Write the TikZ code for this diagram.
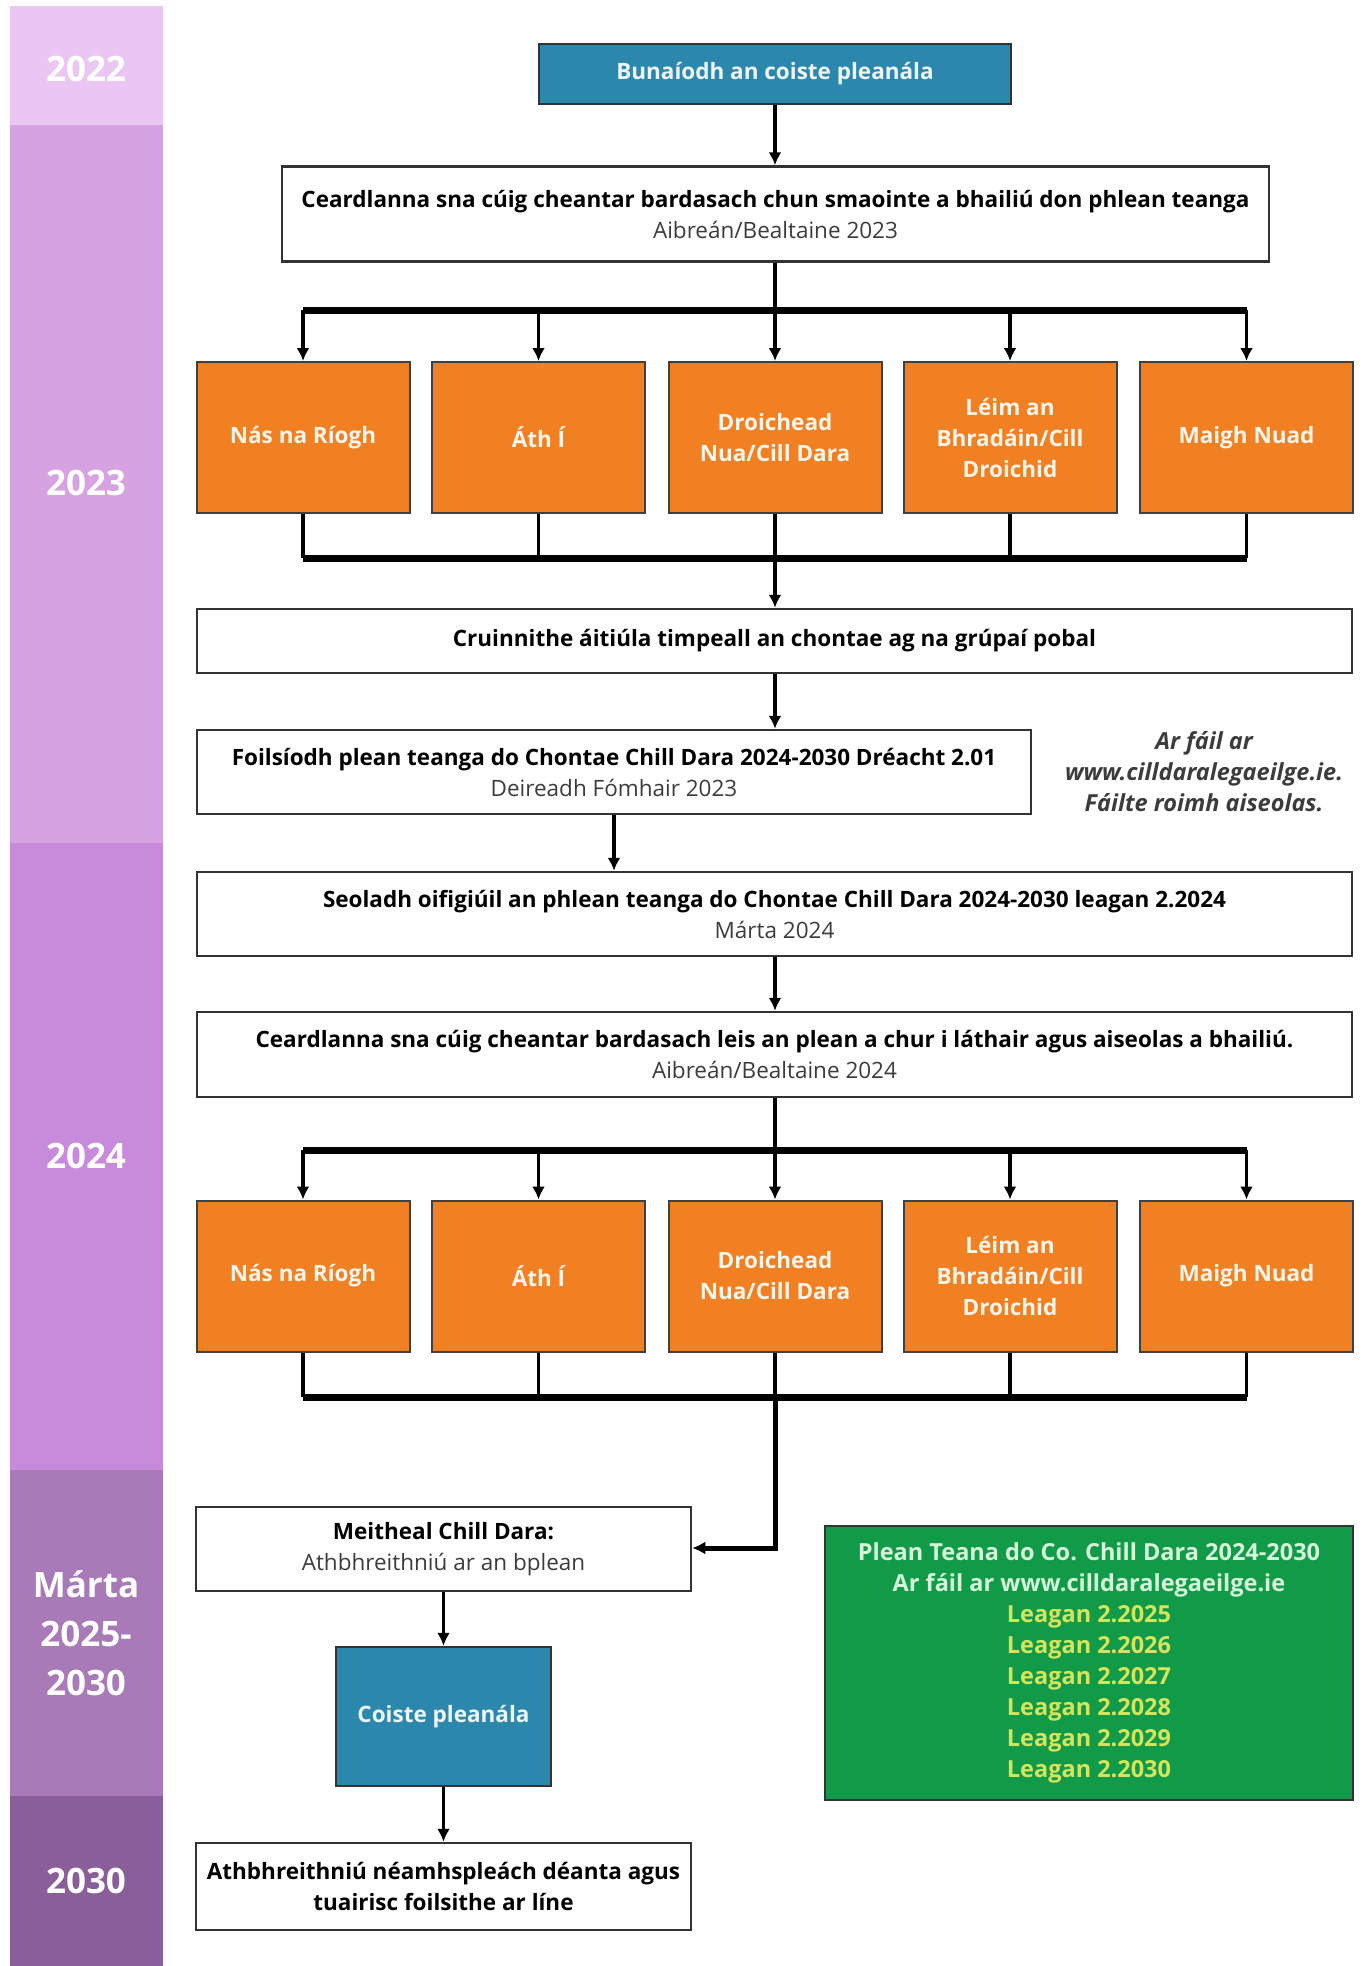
\documentclass[tikz,border=0pt]{standalone}
\usepackage{fontspec}
\setmainfont{Open Sans}
\usetikzlibrary{arrows.meta}
\definecolor{kdteal}{RGB}{44,135,173}
\definecolor{kdorange}{RGB}{240,128,34}
\definecolor{kdgreen}{RGB}{17,154,72}
\definecolor{kdmint}{RGB}{214,246,218}
\definecolor{kdlime}{RGB}{214,228,92}
\definecolor{kdgrey}{RGB}{60,60,60}
\definecolor{pur22}{RGB}{235,198,243}
\definecolor{pur23}{RGB}{214,162,226}
\definecolor{pur24}{RGB}{200,138,219}
\definecolor{pur25}{RGB}{168,122,184}
\definecolor{pur30}{RGB}{138,94,152}
\newcommand{\boxfont}{\fontsize{22.5}{31}\selectfont}
\newcommand{\notefont}{\fontsize{23.5}{31}\selectfont}
\newcommand{\yearfont}{\fontsize{35}{49}\selectfont}

\begin{document}
\begin{tikzpicture}[x=1pt,y=-1pt,
  wbox/.style={draw=black!80,line width=2.5pt,fill=white,align=center,inner sep=0pt,font=\boxfont},
  tbox/.style={draw=black!80,line width=2.5pt,fill=kdteal,text=white!92!kdteal,align=center,inner sep=0pt,font=\boxfont\bfseries},
  obox/.style={draw=black!75,line width=2pt,fill=kdorange,text=white!92!kdorange,align=center,inner sep=0pt,
    minimum width=213pt,minimum height=151pt,font=\boxfont\bfseries},
  yr/.style={text=white,align=center,font=\yearfont\bfseries},
  stem/.style={line width=3.5pt},
  bar/.style={line width=7pt},
  arr/.style={line width=3.5pt,-{Latex[length=13pt,width=13pt]}}]
\useasboundingbox (0,0) rectangle (1367,1966);
\fill[white] (0,0) rectangle (1367,1966);
\fill[pur22] (10,6) rectangle (163,125);
\fill[pur23] (10,125) rectangle (163,843);
\fill[pur24] (10,843) rectangle (163,1470);
\fill[pur25] (10,1470) rectangle (163,1796);
\fill[pur30] (10,1796) rectangle (163,1966);
\node[yr] (y2022) at (86,69) {2022};
\node[yr] (y2023) at (86,483) {2023};
\node[yr] (y2024) at (86,1156) {2024};
\node[yr] (y2025) at (86,1633) {Márta\\2025-\\2030};
\node[yr] (y2030) at (86,1881) {2030};

\node[tbox,minimum width=472pt,minimum height=60pt] (bun) at (775,74) {Bunaíodh an coiste pleanála};
\node[wbox,minimum width=987pt,minimum height=95pt] (ceardA) at (775.5,214)
  {\bfseries Ceardlanna sna cúig cheantar bardasach chun smaointe a bhailiú don phlean teanga\\{\color{kdgrey}Aibreán/Bealtaine 2023}};
\node[obox] (oA1) at (303,437.5) {Nás na Ríogh};
\node[obox] (oA2) at (538.5,437.5) {Áth Í};
\node[obox] (oA3) at (775,437.5) {Droichead\\Nua/Cill Dara};
\node[obox] (oA4) at (1010,437.5) {Léim an\\Bhradáin/Cill\\Droichid};
\node[obox] (oA5) at (1246.5,437.5) {Maigh Nuad};
\node[wbox,minimum width=1155pt,minimum height=64pt] (cruin) at (774.5,641)
  {\bfseries Cruinnithe áitiúla timpeall an chontae ag na grúpaí pobal};
\node[wbox,minimum width=834pt,minimum height=84pt] (foil) at (614,772)
  {\bfseries Foilsíodh plean teanga do Chontae Chill Dara 2024-2030 Dréacht 2.01\\{\color{kdgrey}Deireadh Fómhair 2023}};
\node[align=center,text=kdgrey,font=\notefont\bfseries\itshape] (nota) at (1204,772)
  {Ar fáil ar\\www.cilldaralegaeilge.ie.\\Fáilte roimh aiseolas.};
\node[wbox,minimum width=1155pt,minimum height=84pt] (seol) at (774.5,914)
  {\bfseries Seoladh oifigiúil an phlean teanga do Chontae Chill Dara 2024-2030 leagan 2.2024\\{\color{kdgrey}Márta 2024}};
\node[wbox,minimum width=1155pt,minimum height=85pt] (ceardB) at (774.5,1054.5)
  {\bfseries Ceardlanna sna cúig cheantar bardasach leis an plean a chur i láthair agus aiseolas a bhailiú.\\{\color{kdgrey}Aibreán/Bealtaine 2024}};
\node[obox] (oB1) at (303,1276) {Nás na Ríogh};
\node[obox] (oB2) at (538.5,1276) {Áth Í};
\node[obox] (oB3) at (775,1276) {Droichead\\Nua/Cill Dara};
\node[obox] (oB4) at (1010,1276) {Léim an\\Bhradáin/Cill\\Droichid};
\node[obox] (oB5) at (1246.5,1276) {Maigh Nuad};
\node[wbox,minimum width=495pt,minimum height=84pt] (meith) at (443.5,1549)
  {\bfseries Meitheal Chill Dara:\\{\color{kdgrey}Athbhreithniú ar an bplean}};
\node[tbox,minimum width=215pt,minimum height=139pt] (coiste) at (443.5,1716.5) {Coiste pleanála};
\node[wbox,minimum width=495pt,minimum height=87pt] (athb) at (443.5,1886.5)
  {\bfseries Athbhreithniú néamhspleách déanta agus\\\bfseries tuairisc foilsithe ar líne};
\node[draw=black!80,line width=2.5pt,fill=kdgreen,align=center,inner sep=0pt,font=\notefont\bfseries,
  minimum width=528pt,minimum height=274pt] (glas) at (1089,1663)
  {{\color{kdmint}Plean Teana do Co. Chill Dara 2024-2030}\\
   {\color{kdmint}Ar fáil ar www.cilldaralegaeilge.ie}\\
   {\color{kdlime}Leagan 2.2025}\\{\color{kdlime}Leagan 2.2026}\\{\color{kdlime}Leagan 2.2027}\\
   {\color{kdlime}Leagan 2.2028}\\{\color{kdlime}Leagan 2.2029}\\{\color{kdlime}Leagan 2.2030}};

\coordinate (splitA) at (775,310);
\coordinate (joinA) at (775,558);
\coordinate (splitB) at (775,1150);
\coordinate (joinB) at (775,1397);
\coordinate (turn) at (775,1548);

\draw[arr] (bun.south) -- (bun.south |- ceardA.north);
\draw[stem] (ceardA.south -| splitA) -- (splitA);
\draw[bar] (splitA -| oA1) -- (splitA -| oA5);
\draw[arr] (splitA -| oA1) -- (oA1.north);
\draw[arr] (splitA -| oA2) -- (oA2.north);
\draw[arr] (splitA -| oA3) -- (oA3.north);
\draw[arr] (splitA -| oA4) -- (oA4.north);
\draw[arr] (splitA -| oA5) -- (oA5.north);
\draw[stem] (oA1.south) -- (joinA -| oA1);
\draw[stem] (oA2.south) -- (joinA -| oA2);
\draw[stem] (oA3.south) -- (joinA -| oA3);
\draw[stem] (oA4.south) -- (joinA -| oA4);
\draw[stem] (oA5.south) -- (joinA -| oA5);
\draw[bar] (joinA -| oA1) -- (joinA -| oA5);
\draw[arr] (joinA) -- (joinA |- cruin.north);
\draw[arr] (joinA |- cruin.south) -- (joinA |- foil.north);
\draw[arr] (foil.south) -- (foil.south |- seol.north);
\draw[arr] (splitA |- seol.south) -- (splitA |- ceardB.north);
\draw[stem] (splitB |- ceardB.south) -- (splitB);
\draw[bar] (splitB -| oB1) -- (splitB -| oB5);
\draw[arr] (splitB -| oB1) -- (oB1.north);
\draw[arr] (splitB -| oB2) -- (oB2.north);
\draw[arr] (splitB -| oB3) -- (oB3.north);
\draw[arr] (splitB -| oB4) -- (oB4.north);
\draw[arr] (splitB -| oB5) -- (oB5.north);
\draw[stem] (oB1.south) -- (joinB -| oB1);
\draw[stem] (oB2.south) -- (joinB -| oB2);
\draw[stem] (oB3.south) -- (joinB -| oB3);
\draw[stem] (oB4.south) -- (joinB -| oB4);
\draw[stem] (oB5.south) -- (joinB -| oB5);
\draw[bar] (joinB -| oB1) -- (joinB -| oB5);
\draw[arr,line width=5pt] (joinB) -- (turn) -- (meith.east |- turn);
\draw[arr] (meith.south) -- (coiste.north);
\draw[arr] (coiste.south) -- (athb.north);
\end{tikzpicture}
\end{document}
